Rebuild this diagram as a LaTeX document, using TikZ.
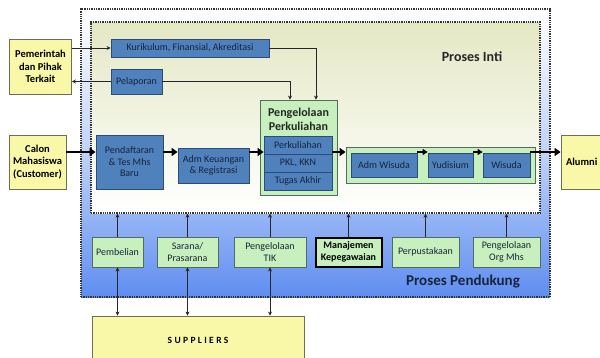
\documentclass[tikz,border=0pt]{standalone}
\usepackage{fontspec}
\setmainfont{Carlito}
\usetikzlibrary{arrows.meta,calc}
\definecolor{boxblue}{RGB}{79,129,189}
\definecolor{boxblueb}{RGB}{45,75,120}
\definecolor{boxgreen}{RGB}{200,240,190}
\definecolor{boxgreenb}{RGB}{80,110,90}
\definecolor{boxyellow}{RGB}{248,248,168}
\definecolor{boxyellowb}{RGB}{110,110,80}
\definecolor{txtdark}{RGB}{25,35,60}
\definecolor{bgblue}{RGB}{95,142,240}
\definecolor{bgbeige}{RGB}{228,232,196}
\tikzset{
  bbox/.style={draw=boxblueb, fill=boxblue, line width=0.8pt, inner sep=1pt, align=center, text=txtdark, font=\fontsize{10}{11.5}\selectfont},
  gbox/.style={draw=boxgreenb, fill=boxgreen, line width=0.8pt, inner sep=1pt, align=center, text=txtdark, font=\fontsize{10}{11.5}\selectfont},
  ybox/.style={draw=boxyellowb, fill=boxyellow, line width=0.8pt, inner sep=1pt, align=center, text=black, font=\fontsize{10.5}{12.5}\selectfont\bfseries},
  arr/.style={draw=black!85, line width=0.7pt, -{Stealth[length=4pt,width=4pt]}},
  darr/.style={draw=black!85, line width=0.7pt, {Stealth[length=4pt,width=4pt]}-{Stealth[length=4pt,width=4pt]}},
  thick arr/.style={draw=black, line width=2.4pt, -{Triangle[length=6pt,width=8pt]}},
  med arr/.style={draw=black, line width=1.5pt, -{Triangle[length=5pt,width=6pt]}},
  dotbox/.style={draw=black!80, line width=1.3pt, densely dotted},
}
\begin{document}
\begin{tikzpicture}[x=1pt,y=-1pt]
\useasboundingbox (0,0) rectangle (600,357);
\clip (0,0) rectangle (600,357);
% background boxes
\node[dotbox, minimum width=469pt, minimum height=288pt, top color=white, bottom color=bgblue, middle color=bgblue!40!white, shading angle=0] (outer) at (315.5,153) {};
\node[dotbox, minimum width=449pt, minimum height=191pt, top color=bgbeige, bottom color=white] (inner) at (315.5,117.5) {};
\node[font=\fontsize{14}{16}\selectfont\bfseries, text=black!85] (intilbl) at (472,57) {Proses Inti};
\node[font=\fontsize{15}{17}\selectfont\bfseries, text=txtdark] (pendlbl) at (463,282) {Proses Pendukung};
\coordinate (mainline) at (0,152);
% external boxes
\node[ybox, minimum width=62pt, minimum height=55pt] (pem) at (40.5,66.5) {Pemerintah\\dan Pihak\\Terkait};
\node[ybox, minimum width=57pt, minimum height=54pt] (calon) at (37.5,162) {Calon\\Mahasiswa\\(Customer)};
\node[ybox, minimum width=50pt, minimum height=54pt, text width=40pt, align=left] (alumni) at (586,162) {Alumni};
\node[ybox, minimum width=212pt, minimum height=56pt, font=\fontsize{9.5}{10}\selectfont\bfseries\addfontfeatures{LetterSpace=25}] (sup) at (198,344) {\raisebox{8pt}{SUPPLIERS}};
% top blue boxes
\node[bbox, minimum width=158pt, minimum height=18pt] (kur) at (190,48) {Kurikulum, Finansial, Akreditasi};
\node[bbox, minimum width=51pt, minimum height=25pt] (pel) at (136.5,81.5) {Pelaporan};
% main flow
\node[bbox, minimum width=67pt, minimum height=54pt] (pend) at (129.5,162) {Pendaftaran\\\& Tes Mhs\\Baru};
\node[bbox, minimum width=71pt, minimum height=35pt] (admk) at (213.5,165.5) {Adm Keuangan\\\& Registrasi};
\node[gbox, minimum width=77pt, minimum height=95pt] (peng) at (298.5,147.5) {};
\node[font=\fontsize{12}{14}\selectfont\bfseries, text=black!85, align=center] (pengt) at (298.5,119) {Pengelolaan\\Perkuliahan};
\node[bbox, minimum width=68pt, minimum height=18pt] (perk) at (298,145) {Perkuliahan};
\node[bbox, minimum width=68pt, minimum height=18pt] (pkl) at (298,163) {PKL, KKN};
\node[bbox, minimum width=68pt, minimum height=18pt] (ta) at (298,181) {Tugas Akhir};
\node[gbox, minimum width=189pt, minimum height=36pt] (wgroup) at (440.5,165) {};
\node[bbox, minimum width=66pt, minimum height=24pt] (admw) at (384,165) {Adm Wisuda};
\node[bbox, minimum width=45pt, minimum height=24pt] (yud) at (450.5,165) {Yudisium};
\node[bbox, minimum width=47pt, minimum height=24pt] (wis) at (506.5,165) {Wisuda};
% support boxes
\node[gbox, minimum width=51pt, minimum height=30pt] (pemb) at (117.5,252) {Pembelian};
\node[gbox, minimum width=61pt, minimum height=30pt] (sar) at (187.5,252) {Sarana/\\Prasarana};
\node[gbox, minimum width=72pt, minimum height=30pt] (tik) at (270,252) {Pengelolaan\\TIK};
\node[gbox, draw=black, line width=2pt, minimum width=66pt, minimum height=29pt, font=\fontsize{10}{11.5}\selectfont\bfseries, text=black] (man) at (348.5,252) {Manajemen\\Kepegawaian};
\node[gbox, minimum width=67pt, minimum height=30pt] (perp) at (425.5,252) {Perpustakaan};
\node[gbox, minimum width=67pt, minimum height=30pt] (org) at (506.5,252) {Pengelolaan\\Org Mhs};
% connectors top
\draw[arr] (pem.east |- kur.west) -- (kur.west);
\draw[arr] (kur.east) -| ($(peng.north)+(17.5,0)$);
\draw[arr] (pel.east) -| ($(peng.north)+(-8.5,0)$);
\draw[arr] (pel.west) -- (pem.east |- pel.west);
% main flow
\draw[thick arr] (calon.east |- mainline) -- (pend.west |- mainline);
\draw[thick arr] (pend.east |- mainline) -- (admk.west |- mainline);
\draw[thick arr] (admk.east |- mainline) -- (perk.west |- mainline);
\draw[thick arr] (perk.east |- mainline) -- (wgroup.west |- mainline);
\draw[med arr] (admw.east |- mainline) -- (yud.west |- mainline);
\draw[med arr] (yud.east |- mainline) -- (wis.west |- mainline);
\draw[thick arr] (wis.east |- mainline) -- (alumni.west |- mainline);
% support arrows
\foreach \n in {pemb,sar,tik,man,perp,org}{
  \draw[arr] (\n.north) -- (\n.north |- inner.south);
}
\foreach \n in {pemb,sar,tik}{
  \draw[darr] (\n.south) -- (\n.south |- sup.north);
}
\end{tikzpicture}
\end{document}
